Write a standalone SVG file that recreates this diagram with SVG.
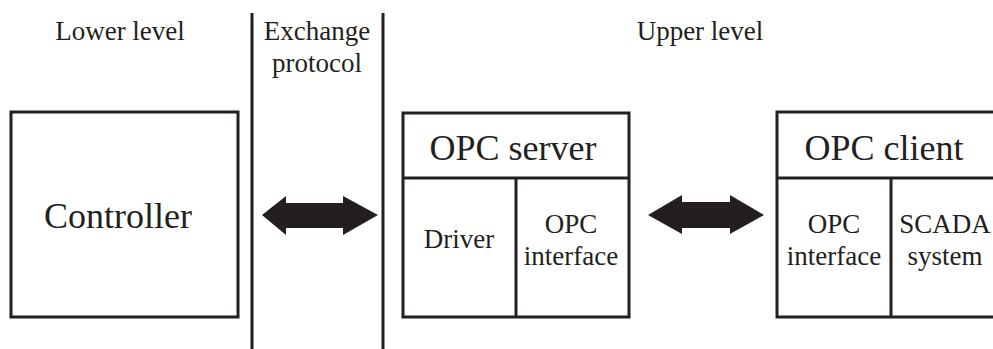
<svg xmlns="http://www.w3.org/2000/svg" width="993" height="349" viewBox="0 0 993 349" font-family="'Liberation Serif', 'Times New Roman', Times, serif">
<style>
.box{fill:#fff;stroke:#231f20;stroke-width:3}
.ln{stroke:#231f20;stroke-width:3;fill:none}
.arr{fill:#231f20;stroke:none}
text{fill:#231f20;text-anchor:middle}
.s{font-size:27px}
.b{font-size:36px}
</style>
<rect width="993" height="349" fill="#fff"/>
<g id="headers">
<text class="s" x="120" y="40">Lower level</text>
<text class="s" x="317" y="40">Exchange</text>
<text class="s" x="317" y="72">protocol</text>
<text class="s" x="700" y="40">Upper level</text>
</g>
<g id="separators">
<line class="ln" x1="252" y1="13" x2="252" y2="349"/>
<line class="ln" x1="383" y1="13" x2="383" y2="349"/>
</g>
<g id="controller">
<rect class="box" x="11" y="112" width="227" height="205"/>
<text class="b" x="118" y="228">Controller</text>
</g>
<g id="opc-server">
<rect class="box" x="403" y="113" width="226" height="204"/>
<line class="ln" x1="403" y1="178" x2="629" y2="178"/>
<line class="ln" x1="516" y1="178" x2="516" y2="317"/>
<text class="b" x="513" y="160">OPC server</text>
<text class="s" x="459" y="248">Driver</text>
<text class="s" x="571" y="233">OPC</text>
<text class="s" x="571" y="265">interface</text>
</g>
<g id="opc-client">
<rect class="box" x="777" y="112" width="230" height="205"/>
<line class="ln" x1="777" y1="178" x2="1007" y2="178"/>
<line class="ln" x1="891" y1="178" x2="891" y2="317"/>
<text class="b" x="884" y="160">OPC client</text>
<text class="s" x="834" y="233">OPC</text>
<text class="s" x="834" y="265">interface</text>
<text class="s" x="945" y="233">SCADA</text>
<text class="s" x="945" y="265">system</text>
</g>
<g id="connectors">
<polygon class="arr" points="262,215 286,196 286,203 343,203 343,196 378,215 343,235 343,228 286,228 286,235"/>
<polygon class="arr" points="648,215 682,195 682,202 730,202 730,195 764,215 730,234 730,228 682,228 682,234"/>
</g>
</svg>
